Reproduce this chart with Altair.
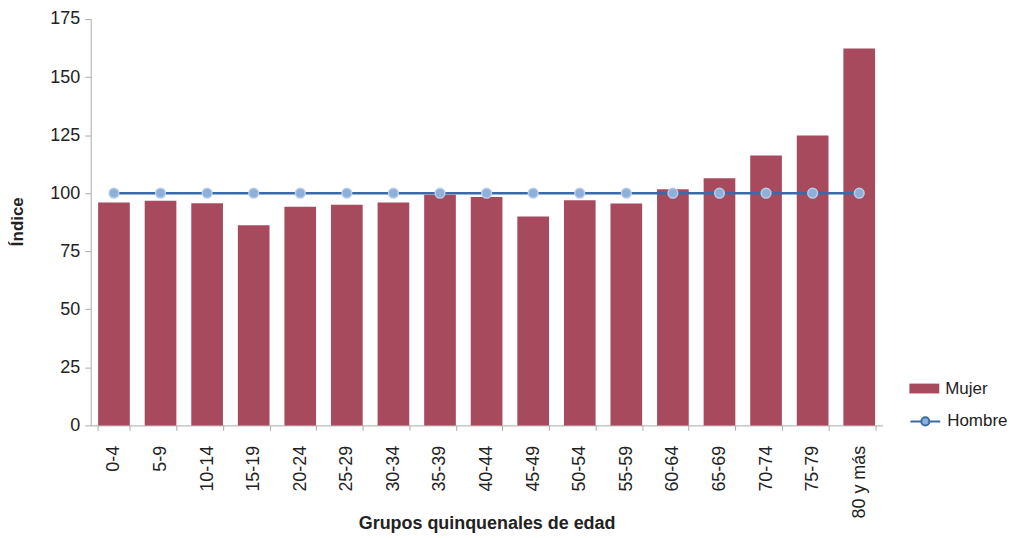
import altair as alt
import pandas as pd

grupos = ["0-4", "5-9", "10-14", "15-19", "20-24", "25-29", "30-34", "35-39",
          "40-44", "45-49", "50-54", "55-59", "60-64", "65-69", "70-74", "75-79",
          "80 y más"]
mujer = [96.0, 96.7, 95.7, 86.2, 94.2, 95.0, 96.0, 99.3, 98.3, 90.0, 96.9,
         95.5, 101.7, 106.4, 116.2, 124.8, 162.3]
hombre = [100, 100, 100, 100, 100, 100, 100, 100, 100, 100, 100, 100, 100,
          100, 100, 100, 100]
y_ticks = [0, 25, 50, 75, 100, 125, 150, 175]

BAR = "#a84a5d"
LINE = "#3b6ba6"
MARK = "#8db0da"
FONT = "Liberation Sans"

df = pd.DataFrame({"grupo": grupos, "Mujer": mujer, "Hombre": hombre})

x_enc = alt.X(
    "grupo:N", sort=grupos,
    scale=alt.Scale(paddingInner=0.32, paddingOuter=0.16),
    axis=alt.Axis(
        title="Grupos quinquenales de edad", labelAngle=-90, tickBand="extent",
        labelFontSize=18, labelColor="#222222", labelFont=FONT, labelPadding=15,
        tickSize=5, tickColor="#aaaaaa", domainColor="#aaaaaa",
        titleFont=FONT, titleFontSize=18, titleFontWeight="bold", titleColor="#222222",
        titleY=104, titleBaseline="alphabetic",
    ),
)
y_axis = alt.Axis(
    title="Índice", values=y_ticks, grid=False,
    labelFontSize=18, labelColor="#222222", labelFont=FONT, labelPadding=5,
    tickSize=6, tickColor="#aaaaaa", domainColor="#aaaaaa",
    titleFont=FONT, titleFontSize=17, titleFontWeight="bold", titleColor="#222222",
    titleX=-73, titleY=203, titleAngle=-90, titleAlign="center", titleBaseline="middle",
)
y_scale = alt.Scale(domain=[0, 175])

bars = alt.Chart(df).transform_calculate(serie="'Mujer'").mark_bar().encode(
    x=x_enc,
    y=alt.Y("Mujer:Q", scale=y_scale, axis=y_axis),
    fill=alt.Fill(
        "serie:N", scale=alt.Scale(domain=["Mujer"], range=[BAR]),
        legend=alt.Legend(
            title=None, orient="none", legendX=822, legendY=356, padding=0,
            symbolType="M-1,-0.33H1V0.33H-1Z", symbolSize=900, symbolStrokeWidth=0,
            labelFont=FONT, labelFontSize=17, labelColor="#222222", labelOffset=6,
        ),
    ),
)

line = alt.Chart(df).transform_calculate(serie="'Hombre'").mark_line(strokeWidth=2.5).encode(
    x=x_enc,
    y=alt.Y("Hombre:Q", scale=y_scale, axis=y_axis),
    stroke=alt.Stroke(
        "serie:N", scale=alt.Scale(domain=["Hombre"], range=[LINE]),
        legend=alt.Legend(
            title=None, orient="none", legendX=822, legendY=388, padding=0,
            symbolType="M-1,0L-0.27,0M0.27,0L1,0M-0.27,0A0.27,0.27 0 1,1 0.27,0A0.27,0.27 0 1,1 -0.27,0Z",
            symbolSize=900, symbolStrokeWidth=2, symbolFillColor=MARK,
            labelFont=FONT, labelFontSize=17, labelColor="#222222", labelOffset=6,
        ),
    ),
)

points = alt.Chart(df).mark_point(
    filled=True, size=95, color=MARK, stroke="#b9cde8", strokeWidth=1.5, opacity=1
).encode(
    x=x_enc,
    y=alt.Y("Hombre:Q", scale=y_scale, axis=y_axis),
)

chart = alt.layer(bars, line, points).properties(
    width=795, height=408,
    autosize=alt.AutoSizeParams(type="none"),
    padding={"left": 83, "top": 10, "right": 126, "bottom": 110},
).configure_view(stroke=None)

chart.save("out.html", embed_options={"renderer": "svg", "actions": False})
